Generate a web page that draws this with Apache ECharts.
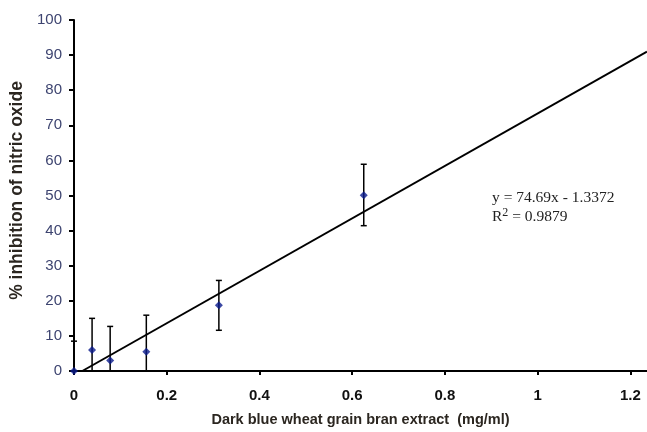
<!DOCTYPE html>
<html>
<head>
<meta charset="utf-8">
<script src="https://cdn.jsdelivr.net/npm/echarts@6/dist/echarts.min.js"></script>
<style>
  html, body { margin: 0; padding: 0; background: #fff; }
  #main { width: 647px; height: 432px; }
</style>
</head>
<body>
<div id="main"></div>
<script>
(function(){
  'use strict';

  // 数据
  var conc = [0, 0.039, 0.078, 0.156, 0.3125, 0.625];
  var inhibition = [0, 6, 3, 5.5, 18.7, 50.1];
  var errUpper = [8.5, 15, 12.7, 15.9, 25.8, 58.9];
  var errLower = [0, 0, 0, 0, 11.6, 41.4];
  var xTicks = [0, 0.2, 0.4, 0.6, 0.8, 1, 1.2];
  var slope = 74.69, intercept = -1.3372;
  var xMax = 1.236;

  var points = conc.map(function (x, i) { return [x, inhibition[i]]; });
  var bars = conc.map(function (x, i) { return [x, errLower[i], errUpper[i]]; });
  var x0 = -intercept / slope;
  var trend = [[x0, 0], [xMax, slope * xMax + intercept]];

  var myChart = echarts.init(document.getElementById('main'));

  var option = {
    backgroundColor: '#fff',
    animation: false,
    grid: { left: 74, top: 20, right: 0, bottom: 59 },
    xAxis: {
      type: 'value',
      min: 0,
      max: xMax,
      name: 'Dark blue wheat grain bran extract  (mg/ml)',
      nameLocation: 'middle',
      nameGap: 41,
      nameTextStyle: { fontFamily: 'Liberation Sans', fontWeight: 'bold', fontSize: 14.5, color: '#2b2620' },
      axisLine: { lineStyle: { color: '#000', width: 2 } },
      axisTick: { show: true, customValues: xTicks, length: 4, lineStyle: { color: '#000', width: 2 } },
      axisLabel: {
        customValues: xTicks,
        margin: 17,
        fontFamily: 'Liberation Sans', fontWeight: 'bold', fontSize: 15, color: '#111'
      },
      splitLine: { show: false }
    },
    yAxis: {
      type: 'value',
      min: 0,
      max: 100,
      interval: 10,
      name: '% inhibition of nitric oxide',
      nameLocation: 'middle',
      nameGap: 45,
      nameTextStyle: { fontFamily: 'Liberation Sans', fontWeight: 'bold', fontSize: 17.5, color: '#2b2620', padding: [0, 0, 0, 10] },
      axisLine: { show: true, lineStyle: { color: '#000', width: 2 } },
      axisTick: { show: true, length: 5, lineStyle: { color: '#000', width: 2 } },
      axisLabel: { margin: 12, fontFamily: 'Liberation Sans', fontSize: 15, color: '#3d4470' },
      splitLine: { show: false }
    },
    series: [
      {
        name: 'trend',
        type: 'line',
        data: trend,
        symbol: 'none',
        lineStyle: { color: '#000', width: 2 },
        z: 2
      },
      {
        name: 'error',
        type: 'custom',
        data: bars,
        renderItem: function (params, api) {
          var x = api.value(0);
          var lo = api.coord([x, api.value(1)]);
          var hi = api.coord([x, api.value(2)]);
          var cap = 3;
          var style = { stroke: '#000', lineWidth: 1.5 };
          return {
            type: 'group',
            children: [
              { type: 'line', shape: { x1: lo[0], y1: lo[1], x2: hi[0], y2: hi[1] }, style: style },
              { type: 'line', shape: { x1: hi[0] - cap, y1: hi[1], x2: hi[0] + cap, y2: hi[1] }, style: style },
              { type: 'line', shape: { x1: lo[0] - cap, y1: lo[1], x2: lo[0] + cap, y2: lo[1] }, style: style }
            ]
          };
        },
        z: 3
      },
      {
        name: 'data',
        type: 'scatter',
        data: points,
        symbol: 'diamond',
        symbolSize: 8,
        itemStyle: { color: '#0a1a8c' },
        z: 4
      }
    ],
    graphic: [
      {
        type: 'text',
        left: 492,
        top: 189,
        style: {
          text: 'y = 74.69x - 1.3372\n{r|R}{s|2}{r| = 0.9879}',
          fontFamily: 'Liberation Serif',
          fontSize: 15.5,
          fill: '#222',
          lineHeight: 18,
          rich: {
            r: { fontFamily: 'Liberation Serif', fontSize: 15.5, fill: '#222', verticalAlign: 'bottom' },
            s: { fontFamily: 'Liberation Serif', fontSize: 12, fill: '#222', verticalAlign: 'top', padding: [0, 0, 7, 0] }
          }
        }
      }
    ]
  };

  myChart.setOption(option);
}());
</script>
</body>
</html>
